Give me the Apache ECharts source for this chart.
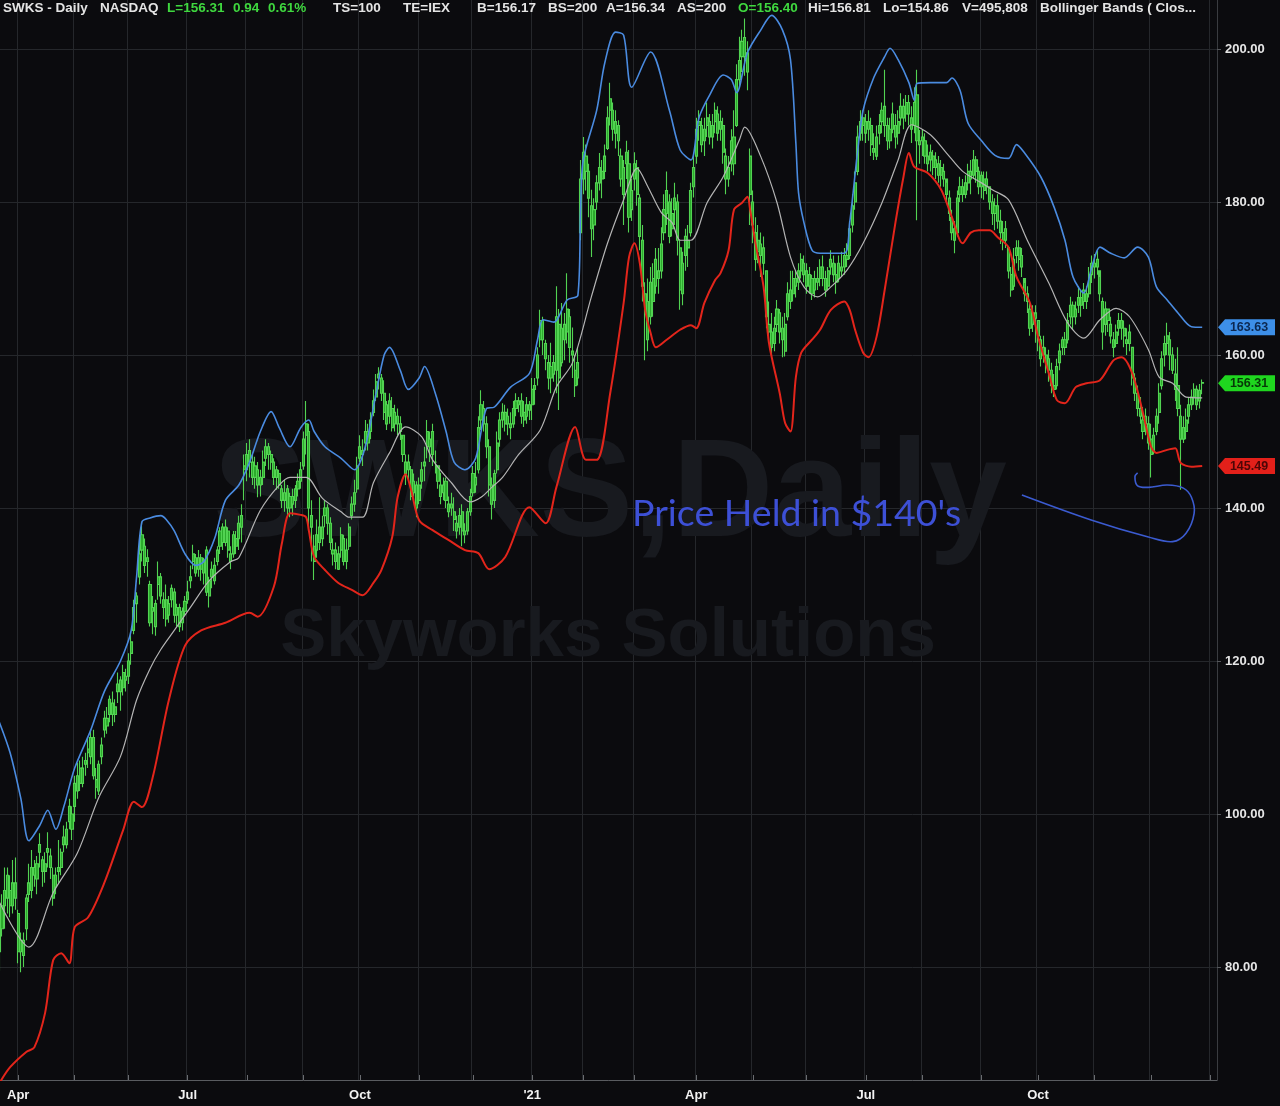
<!DOCTYPE html>
<html><head><meta charset="utf-8">
<script src="https://cdn.jsdelivr.net/npm/echarts@6/dist/echarts.min.js"></script>
<style>html,body{margin:0;padding:0;background:#0b0b0e;}#c{width:1280px;height:1106px;}</style>
</head><body><div id="c"></div>
<script>
// ---------- categories (trading days) ----------
const firstDay = [2020, 2, 23];           // 2020-03-23
const totalSlots = 453;                    // incl. a few empty days on the right
const holidays = ['2020-04-10','2020-05-25','2020-07-03','2020-09-07','2020-11-26','2020-12-25',
  '2021-01-01','2021-01-18','2021-02-15','2021-04-02','2021-05-31','2021-07-05','2021-09-06',
  '2021-11-25','2021-12-24'];
const quarterMonths = ['01','04','07','10'];
const monthNames = {'04':'Apr','07':'Jul','10':'Oct'};
const yTickDigits = 2;

// ---------- price bars [open, close, low, high] ----------
const priceBars = [
[86,82,79.5,89],[85,88,84,89.5],[88,90,85,93],[89,92,87,93],[90,88,86.5,92],[88,91,87,94],[91,89,87.5,94.3],
[87,82,80.5,87.5],[82,83.5,79.3,84.5],[83.5,81.5,80,84.5],[85,89,83.5,89.5],[91,89.5,88.5,93.5],[90,93,89,95.3],[93,92,90.5,94],
[91.5,93.5,89.5,94.5],[95,96,93,97.5],[94,92.5,90.5,94.5],[92.5,93.5,91,95],[95,95.5,93,97.6],[94.5,93,91.5,95.5],[92,89,88,93],
[90.5,92,89.5,93],[92.5,93,91,96.6],[93,95,92,95.5],[96,97,95,98.5],[98,96,95.5,99],[99,101,98,102],[100,98,96.6,101],
[101,104,99,105],[103,105,102,106.7],[106,104,103,107],[104,106,103.5,107.5],[106.5,107,105,108],[108,108.5,106,110],[107.5,110,106.5,111],
[110,105,104.5,111],[104.5,103.5,102,106],[103,106.5,102.5,107],[107.5,109,106.5,110],[111,112.5,110,113.5],[112.5,111.5,110.5,114],[113,115,112,115.5],
[114.5,113,111.5,116],[113,114,112,115],[116,117,114.5,118.5],[117.5,116,113.5,118],[116.5,118.5,115.5,119.5],[118,117.5,116,119],
[118,120,117,121],[121,122.5,119.5,123.8],[124,127,123.5,128],[127.5,128.5,125,129],[131,134,130,136],[134.5,136.5,133,138.2],[135,132.5,131.5,136],
[133,133.5,131,134.6],[130,125,124.5,130.5],[127,126.5,123.5,128.5],[124.5,127.5,123.3,128],[130,131,128,133],[131,128.5,127.5,131.5],[128,127,125.5,129],
[128,125.5,124.5,130],[126,127.5,125,128.5],[128,129.5,127,130],[129,126,125,129.5],[126,127,124.5,127.5],[127,124.5,123.8,127.5],[125,126.5,124,127],[126.5,127.8,126,128.5],
[128,129,127.5,130.5],[130.5,131,129.5,132.5],[133,134,132,135.2],[133.5,131.5,131,134],[132,133.5,131,134.5],[133.5,132,130.5,134],[131.5,133,130,133.5],
[134.5,129,128.5,135],[128.5,130.5,127,131],[132,131,129.5,133],[130.5,132.5,130,133.5],[133,134.5,132.5,135],[135,137,134,137.5],[137.5,135.5,134.5,138],
[135.5,137.5,135,138.5],[137,134.5,133.5,137.5],[134,133,132,135],[134,136.5,133.5,137],[136,135,134,137],[136,138,134.5,139],[137.5,139,135.5,140.5],[145,145.5,141,147],
[145,147,143.5,148.5],[147.5,146,144,149],[146,144,143,147],[144,145.5,142.5,146.7],[145,143,141.4,146],[143,144,141.5,145],[144,146,143,147.5],
[146.5,148,145.5,149],[148,147,145,148.5],[147,146,145,147.5],[146,144,143,146.5],[144,145,142.4,145.5],[144.5,143,142.5,145],[142.5,141,140,143],
[141,142,139.5,143.7],[142.5,140,139,143],[140,141.5,138.8,142],[141.5,140.5,139,142.5],[141,142.5,140,143],[142.5,143.5,141.5,144.5],[143.5,145,142.5,146],
[145.5,149,145,150],[149.5,151,147,154],[150,140,137,151],[139,137.5,133,141],[135,133,130.6,136.5],[134.5,136.5,133.5,138.5],[137.5,135.5,134.5,141.4],
[136,137.5,135,139],[139,140,137.5,141],[140,138,136.5,140.5],[138,135.5,134.5,138.8],[134,134.5,132.5,136],[134.5,133,132,135.5],[132,134,131.9,135],
[134.5,136.5,133.5,137.5],[136,133,132.5,136.5],[133,134.5,132,136],[135,137.5,134.5,138],[139,140.5,138.5,141.5],[140.5,142,139.5,143.7],[142.5,145.5,142,146.7],
[146.5,148,146,149.5],[147,147.5,145.5,149],[148.5,150,147.5,151.5],[150,148.5,147.5,151],[150,151.5,149,152.5],[152.5,154,152,155.5],[154.5,156.5,154,157.5],
[157,157.5,155.5,158.4],[157,155,154,157.5],[155,152.5,151.5,156.7],[151,153.5,150.2,154],[154,152,151,155],[153,150.5,150,154.5],[151,152.5,150,153.5],
[152,151,149.5,153],[151,150,148.9,152],[149.5,147,146,149],[146,144.5,143,147],[145,146,143.5,147],[145,141.5,141,145.5],[142,143.5,141.5,144.5],[143,140,138.8,143.5],
[141,143,140.5,144],[143.5,145,142.5,146],[146,145.5,143.5,148],[148,150,146.5,151.5],[149,148,146,150],[150,147,145.5,151],[146,146,144.5,147.5],
[145.5,143.5,142.5,145.5],[143,141.5,140.5,144.6],[142,143,141,144],[143.5,141,140,144],[140.5,139.5,138.8,141.5],[140,140.5,139,142],[139.5,138.5,137,141.4],
[138,137,136,139],[137.5,139,136.5,140],[139.5,137,135,140.5],[137,136.5,135.4,138],[137,139.5,136.5,140],[139.5,141.5,139,142.5],
[142,144.5,141.5,145.5],[144,143,142,146],[145,150.5,144.5,152],[151.5,153.5,150.2,155.4],[153,151,150,154],[151,148,146.5,152],[148,143,141.5,149],
[143,140.5,138.5,144],[141,144.5,140,145],[145,148.5,144.5,150],[149,151.5,148,152.5],[151.5,152.5,150.5,153.7],[152.5,151,150,153.5],[151,152,149.5,153],
[151,150.5,149,152.5],[151,153,150.5,154],[153,154,152,155],[154,153.5,152.5,154.5],[154,152,151,155],[152.5,151.5,150.6,154],[152,153.5,151,154.5],[153.5,152.8,151.5,154],
[153.5,155.5,151.5,157],[155.5,156,153.5,157],[157,160,156,161],[162,164.5,161,165.9],[164.5,162,160,165],[161.5,159.5,158,162],[159,157,155.5,160],
[157,158.5,155,161.6],[159,157.5,156.5,160],[158,165,155,169],[164,157,152.8,166],[159,163.5,158.5,166.8],[164,162,159.3,165.5],[163,166,161.5,170.7],
[165,161,159,166],[160.5,160,157,163.6],[158,156,154.5,160],[157,159,156,161],[176,183,175,185.5],
[183,186.5,181,188.5],[186,184,181.5,187.5],[184,180.5,178,185],[179.5,176.5,172.8,181.6],[177,179,175,180.5],[180,182.5,179,183.5],[182.5,184.5,181.5,186.4],
[184,183,180.5,185.5],[184,186,183,187.5],[187,191,186.8,192.5],[192,193.5,190,195.6],[192,189.5,188,193],[189,190.5,187,192],[190,188,186,190.7],
[186,183,182,187],[181,184.5,177,185.5],[185,186.5,183,188],[185,178,176,186.8],[179,181.5,177.5,183],
[183,185,181.5,186.5],[184.5,181,179.5,185.5],[180.5,175.5,173.7,181],[175,169,167,177],[168,166,159.3,169.5],[167,162,160.5,170],[165,169.5,164,171.5],
[170,167,165,172],[169,172.5,168,174],[171,170,168,174],[171,174.5,170,176.7],[176,179,175,181],[178.5,181.5,177,184],[180,175.5,174.6,181],
[176.5,178.5,175.5,180.5],[179,180.5,177,182.5],[180,175,173,181],[174,168.5,165.9,175],[168,172,166.5,173.5],[173,175.5,171,176.5],[175,174,171.5,177],
[176,181.5,175.5,182.5],[182,184.5,180.6,186],
[186,189.5,185,191],[190,190.5,188,192],[190,187.5,186.5,191],[188,189.5,186,191],[190,191,188.5,193],[190.5,188.5,187.5,191.5],[188.5,190,187,191.5],
[190.5,192,189,193],[191.5,189,188,192.5],[189.5,190.5,188,192],[190,186.5,185,191],[186,183,181,187],[183,184.5,182,186],[185,188,184,189.5],
[188.5,185,183.5,192],[190,196,189.8,198],[196,198.5,195,201.6],[199,201,197,202.5],[201.5,199,196.5,204],[199.5,197,194.6,201],[186,181,177,187],
[180,177,174.6,181.5],[176,172.5,171,178],[173.5,175,172,177],[174.5,173,170.2,176],[174,172,170.5,175.5],[171,165,163.5,171],[163,164,161.6,167],
[163,161,160,165.5],[161.5,163.5,160.5,165],[164,166,163,167.2],[165.5,163,161.5,166],[163.5,162,159.7,165],[160.5,164,159.8,165.5],[165,168,164.5,169.5],
[168.5,167,166,171],[168,170,167,171],[170,169,167.5,171],[169.5,171,168.5,172],[171,172.5,170,173.3],[172,170.5,169.5,173],
[171,169,168,172],[169,170.5,168,171.5],[170,168,167.2,170.5],[168.5,170,167.5,171],[170,169.5,168.5,171.5],[170,171.5,169,172.5],[171.5,170,169,173],
[170,168.5,167.6,171],[169,171,168.5,171.5],[171.5,172.5,170.5,173.7],[172,170.5,169.5,173],[170.5,169.5,168,172],[170,172,169.5,173],[171.5,171,170.2,173.5],
[171.5,173,170.5,174],[173,172.5,171.5,174.6],[173,176.5,172.5,177.5],[177,179.5,176,181],[180,182.5,179,184],[184,188.5,183.5,190],[189,190.5,188,192],[190,191,188,192],
[190.5,189,187.7,191.5],[189.5,190.5,188,192],[190,187.5,186,191],[187,186.5,185.5,189],[186,188.5,185.5,190],[189,190,187.5,191.5],[190.5,192,189,193],
[192.5,190,188.5,197.3],[190,188,186.8,191],[188,189.5,187,191],[189.5,191.5,189,193],[190,188.5,187,191.5],[189,190.5,187.5,192],[191,192.5,190,194.2],
[192.5,191,189.5,193.5],[191.5,193,190.5,194],[193,191.5,190,194],[191,189.5,187.7,192.5],[190,193,189,195],[194,188,177.6,197.3],[188,187.5,185,189.4],
[188,188.5,186,189.4],[188,186,185,189],[186,185,184,187.5],[185.5,186.5,184,187.5],[186,184.5,183.5,186.8],[184.5,185.5,183,186.5],[185,183.5,182.5,186],
[183.5,184.5,182,185.5],[184,183,182,185],[183,181,180,182.5],[180.5,178.5,177.5,181.5],[178,176,175,179],[176.5,175,173.3,177.5],[176,180.5,175.5,181.5],
[181,182,180,183.3],[182,181,180,183],[181,182.5,180.5,183.5],[182.5,184,181.5,185],[184,183,181,185.5],[183.5,185.5,183,186.8],[185.5,184,182.5,186],[184,182,181,184.6],
[182,183.5,180.5,184],[183,181.5,180.3,184],[182,183,181,184],[182,180,179,182],[180,178.5,177,181],[178.5,179.5,176.3,180.5],[179.5,177.5,176.5,181],
[177.5,176,174.5,179],[176,175,173.7,177.5],[175,176.5,174,177.5],[174,171,170,173.7],[170.5,168.5,167.6,171.5],[169,172.5,168.5,174],[173,174,172,175],
[174,172.5,171,175],[173,171.5,170.2,174],[170,168,167,169.4],[168,167,165.5,169],[166,163.5,162.5,167],[164,165.5,163,166.5],[165.5,164.8,161.6,166.5],
[164.5,162.5,160.5,163.3],[162,159.5,158.5,162.5],[160,161,159,162.5],[160,158.5,157.6,161],[159.5,158,156.5,160.7],[158,156,155,159],[156,155.5,154.5,157.5],
[156,158.5,155.5,159.5],[159,160.5,158,161.5],[161,162,160,162.4],[162,161,160,163],[162,164.5,161.5,165.5],[165,166.5,164,167.6],[166.5,165,163.3,167],
[165,166,164,167],[166.5,167.5,165.5,169],[167.5,166.5,165,168.5],[167,168.5,166,169.4],[168,167,166,169],[168,170.5,167.5,171.5],[170.5,172,169.4,173],
[172,171.5,170,173.2],[171.5,172.5,170.5,173.7],[171,168,167,170.2],[167,163,160.7,167.5],[164,166,162.5,167],[166,164.5,163,165.9],[164,162.5,161.5,165],
[162,161,159.7,163],[161.5,163,161,164],[163.5,164.5,162.5,165.5],[164.5,163.5,162,165.5],[163.5,162.5,161,164.5],[162,161.5,160,163.5],[161.5,163,160.5,164],
[161,157,156,161],[157,155,154,157.6],[155,153,152,156],[153,152,151,154.5],[151.5,150,149,153.2],[151,152,149.5,153],[151,148.5,147.6,152],
[149,147,144,151],[147.5,149.5,147,150.5],[150,152,149.5,153],[152.5,155,151,156.3],[156,159.5,155.5,160.5],[160,161.5,158.5,162.5],[161.5,162.5,160,164.2],
[162,160,158,163],[160,158,157.5,161],[157.5,155.5,154,159.5],[156,153,152,161],[152,149,142.4,153.5],[149,150.5,148.5,152],[150,151.5,149,153],
[152,153.5,151,154.5],[153.5,154.5,152.8,155.5],[154.5,155.5,153.5,156.3],[155.5,153.5,152.8,156],[154,155.37,153,156.2],[156.40,156.31,154.86,156.81]
];

// ---------- Bollinger bands, read at sample days [dayIndex, value] ----------
const upperBand = [[0,112],[4,108],[8,102],[11,96.5],[15,98.5],[18,100.5],[21,98],[24,101],[28,106],[34,111],[39,116],[45,120],[49,124],[51,131],[53,138.2],[56,138.7],[60,139],[62,138.5],[65,137],[69,134],[73,132.5],[76,133],[80,136],[84,141],[89,143],[93,146],[97,150],[101,152.6],[104,150.5],[108,148],[112,150.5],[115,151.5],[117,150],[121,148],[127,146.5],[132,145],[136,148],[140,155],[143,160],[145,161],[149,158],[152,155.5],[156,157],[158,158.5],[162,155],[166,150],[169,146],[173,145],[177,146.5],[181,153],[184,153.2],[190,155.8],[197,157.6],[200,162],[202,164.6],[206,164.3],[211,167.2],[215,167.8],[216,179],[217,185.5],[222,192],[225,198.2],[229,202.2],[232,201.8],[235,195],[242,199.6],[249,192],[253,186.8],[257,185.5],[260,191],[264,194],[269,196.6],[272,196],[274,194.3],[278,199.5],[283,202.5],[287,204.4],[291,202.5],[294,198.6],[296,187.7],[297,181.2],[299,177.3],[302,173.7],[305,173.3],[314,173.3],[316,177.3],[319,186.8],[321,192],[325,196.3],[329,199],[331,200.1],[334,198.6],[338,195.6],[340,193.3],[341,195.5],[346,195.6],[352,195.6],[354,196.2],[357,194.6],[360,190.3],[365,188],[370,186.1],[375,185.7],[378,187.5],[381,186.4],[387,183.3],[392,179.3],[396,175],[399,170.2],[403,168.1],[406,171.5],[409,174.1],[413,173.3],[418,172.7],[423,174.1],[427,172.8],[430,168.9],[434,167.2],[438,165.5],[443,163.7],[447,163.63]];
const middleBand = [[0,88.5],[11,82.6],[20,89.7],[29,94.9],[37,102.2],[45,107.5],[51,114.9],[56,119],[60,121.5],[65,124],[71,127],[78,130.5],[86,133],[89,133.5],[97,139.7],[104,143],[108,144],[114,144],[120,141.3],[127,139.5],[130,138.8],[135,138.8],[139,143.3],[145,147.2],[151,150.6],[157,149.3],[161,146.3],[168,143.3],[175,140.8],[179,141.4],[183,142.7],[187,144],[193,147],[201,150.2],[207,155.8],[213,159],[220,167.6],[226,174.6],[232,180.3],[237,184.4],[241,182],[246,178.6],[250,177.3],[253,175],[257,175],[263,179.9],[269,183.3],[275,188.1],[277,189.8],[283,185.9],[289,179.9],[294,172.8],[299,168.9],[304,167.6],[309,168.9],[315,171.1],[321,174.6],[328,179.9],[334,185.5],[339,190.1],[346,188.8],[352,186.4],[358,184],[365,182.5],[369,181.6],[375,180.3],[382,175],[390,169.4],[397,164.2],[403,162.2],[409,164.6],[415,166.1],[420,165],[427,160.7],[431,157.1],[436,156.3],[441,154.5],[447,154.4]];
const lowerBand = [[0,64.8],[4,66.9],[10,68.9],[13,69.5],[17,74],[20,80.9],[23,81.8],[26,80.5],[28,85.2],[33,86.5],[39,91],[46,97.9],[50,101.6],[53,100.9],[57,104.8],[63,114.9],[69,122],[75,124],[84,125],[93,126.3],[96,125.8],[102,129.7],[105,135.4],[108,139.3],[112,139.1],[114,138.8],[115,137.1],[117,133.6],[121,131.9],[126,130.2],[131,129.3],[135,128.6],[139,130.2],[142,131.9],[146,136.2],[148,141.4],[151,144.4],[153,142.4],[156,138.4],[161,137.1],[167,135.8],[173,134.5],[178,134.1],[182,132],[188,133.6],[197,140.1],[203,138],[207,142.7],[214,150.6],[218,146.3],[222,146.3],[227,155],[232,166.8],[234,172.8],[236,174.6],[238,172],[240,165.9],[242,162.9],[244,161],[248,162],[253,163.3],[257,163.9],[259,163.5],[262,166.8],[266,169.8],[268,170.7],[271,173.7],[273,179],[276,179.9],[278,180.7],[279,179],[281,174.6],[284,168.9],[286,161.6],[290,155],[292,151.1],[294,150],[296,157.1],[298,160.3],[302,162],[305,163.3],[309,165.9],[314,167],[316,165.9],[318,163.3],[321,160.3],[323,159.7],[326,162.4],[329,168.5],[333,177.3],[336,183.3],[338,186.4],[340,184.6],[345,183.8],[350,181.6],[354,178],[358,174.6],[361,176],[364,176.3],[368,176.3],[371,175.4],[375,174.1],[378,170.2],[383,166.8],[386,162.4],[390,157.6],[393,154.1],[396,153.7],[400,155.8],[404,156.3],[409,156.7],[414,159.3],[417,159.7],[421,157.6],[425,152.4],[428,148],[430,147.2],[434,147.6],[437,147.8],[439,145.9],[443,145.4],[447,145.49]];

// last values shown in the right-hand tags
const lastUpper = 163.63, lastClose = 156.31, lastLower = 145.49;
// hand-drawn note curve, in [dayIndex, price]
const notePath = [[380,141.7],[406,138.4],[427,136.2],[436,135.6],[441,136.7],[444,139.3],[443,141.4],[440,142.6],[434,143],[427,142.7],[423,142.9],[422,144.1],[423,144.6]];

// header tokens [x, text, colour]
const W = '#e4e4e4', G = '#3fd83f';
const headerTokens = [[3,'SWKS - Daily',W],[100,'NASDAQ',W],[167,'L=156.31',G],[233,'0.94',G],[268,'0.61%',G],
  [333,'TS=100',W],[403,'TE=IEX',W],[477,'B=156.17',W],[548,'BS=200',W],[606,'A=156.34',W],[677,'AS=200',W],
  [738,'O=156.40',G],[808,'Hi=156.81',W],[883,'Lo=154.86',W],[962,'V=495,808',W],[1040,'Bollinger Bands ( Clos...',W]];

// ---------- build dates ----------
const dates = [];
(function(){
  const d = new Date(Date.UTC(firstDay[0], firstDay[1], firstDay[2]));
  while (dates.length < totalSlots) {
    const dow = d.getUTCDay();
    const s = d.toISOString().slice(0,10);
    if (dow !== 0 && dow !== 6 && holidays.indexOf(s) < 0) dates.push(s);
    d.setUTCDate(d.getUTCDate() + 1);
  }
})();
const lastIdx = priceBars.length - 1;
function isMonthStart(i){ return i > 0 && dates[i].slice(5,7) !== dates[i-1].slice(5,7); }
function isQuarterStart(i){ return isMonthStart(i) && quarterMonths.indexOf(dates[i].slice(5,7)) >= 0 && i <= lastIdx; }

const chart = echarts.init(document.getElementById('c'), null, {renderer:'canvas'});
const gridCol = '#25272b';
chart.setOption({
  backgroundColor: '#0b0b0e',
  animation: false,
  grid: { left: -2, right: 63, top: 0, bottom: 26, outerBoundsMode: 'none', containLabel: false },
  xAxis: {
    type: 'category', data: dates, boundaryGap: true,
    axisLine: { show: true, lineStyle: { color: '#5a5c60', width: 1 } },
    axisTick: { show: true, inside: true, length: 5, alignWithLabel: true, interval: (i) => isMonthStart(i), lineStyle: { color: '#6a6c70' } },
    axisLabel: { interval: (i) => isQuarterStart(i), color: '#f2f2f2', fontWeight: 'bold', fontSize: 13,
      fontFamily: 'Liberation Sans, Arial', margin: 9,
      formatter: (v) => { const m = v.slice(5,7); return m === '01' ? "'" + v.slice(2,4) : monthNames[m]; } },
    splitLine: { show: true, interval: (i) => isMonthStart(i), lineStyle: { color: gridCol, width: 1 } }
  },
  yAxis: {
    type: 'value', position: 'right', min: 65.229, max: 206.405, splitNumber: 7, scale: true,
    axisLine: { show: true, lineStyle: { color: '#3a3c40' } },
    axisTick: { show: true, length: 4, lineStyle: { color: '#55575b' } },
    axisLabel: { color: '#e6e6e6', fontWeight: 'bold', fontSize: 13, fontFamily: 'Liberation Sans, Arial', margin: 8,
      showMinLabel: false, showMaxLabel: false, formatter: (v) => v.toFixed(yTickDigits) },
    splitLine: { show: true, showMinLine: false, showMaxLine: false, lineStyle: { color: gridCol, width: 1 } }
  },
  series: [
    { name: 'SWKS', type: 'candlestick', data: priceBars, barWidth: 2.6, z: 2,
      itemStyle: { color: '#2aa82a', color0: '#2aa82a', borderColor: '#52d352', borderColor0: '#52d352', borderWidth: 1.1 } },
    { name: 'Upper', type: 'line', data: upperBand, showSymbol: false, smooth: 0.3, z: 3,
      lineStyle: { color: '#4a8be0', width: 1.6 } },
    { name: 'Middle', type: 'line', data: middleBand, showSymbol: false, smooth: 0.3, z: 3,
      lineStyle: { color: '#b4b4b4', width: 1.2 } },
    { name: 'Lower', type: 'line', data: lowerBand, showSymbol: false, smooth: 0.3, z: 3,
      lineStyle: { color: '#e3251b', width: 2 } }
  ]
});

// ---------- overlays ----------
const gfx = [];
gfx.push({ type: 'text', x: 610, y: 497, z: 0, silent: true,
  style: { text: 'SWKS,Daily', fill: '#181a1f', font: 'bold 140px "Liberation Sans", Arial', align: 'center', verticalAlign: 'middle' } });
gfx.push({ type: 'text', x: 608, y: 637, z: 0, silent: true,
  style: { text: 'Skyworks Solutions', fill: '#181a1f', font: 'bold 69px "Liberation Sans", Arial', align: 'center', verticalAlign: 'middle' } });
headerTokens.forEach(t => gfx.push({ type: 'text', x: t[0], y: 8, z: 100, silent: true,
  style: { text: t[1], fill: t[2], font: 'bold 13.5px "Liberation Sans", Arial', align: 'left', verticalAlign: 'middle' } }));
gfx.push({ type: 'text', x: 632, y: 514, z: 100, silent: true,
  style: { text: "Price Held in $140's", fill: '#3d50d6', font: '37.5px Lato, "Open Sans", sans-serif', align: 'left', verticalAlign: 'middle' } });
const pts = notePath.map(p => chart.convertToPixel({ gridIndex: 0 }, p));
gfx.push({ type: 'polyline', z: 100, silent: true, shape: { points: pts, smooth: 0.35 },
  style: { stroke: '#3b5bd0', lineWidth: 1.6, fill: null } });
const tags = [[lastUpper, '#3d8fe8', '#0c2850'], [lastClose, '#1fd61f', '#073807'], [lastLower, '#e3201a', '#4d0606']];
tags.forEach(t => {
  const y = chart.convertToPixel({ yAxisIndex: 0 }, t[0]);
  gfx.push({ type: 'group', x: 1218, y: y, z: 100, children: [
    { type: 'polygon', shape: { points: [[0,0],[7,-8],[57,-8],[57,8],[7,8]] }, style: { fill: t[1] } },
    { type: 'text', x: 31, y: 0.5, style: { text: t[0].toFixed(2), fill: t[2], font: 'bold 12.5px "Liberation Sans", Arial', align: 'center', verticalAlign: 'middle' } }
  ]});
});
chart.setOption({ graphic: gfx });
</script>
</body></html>
